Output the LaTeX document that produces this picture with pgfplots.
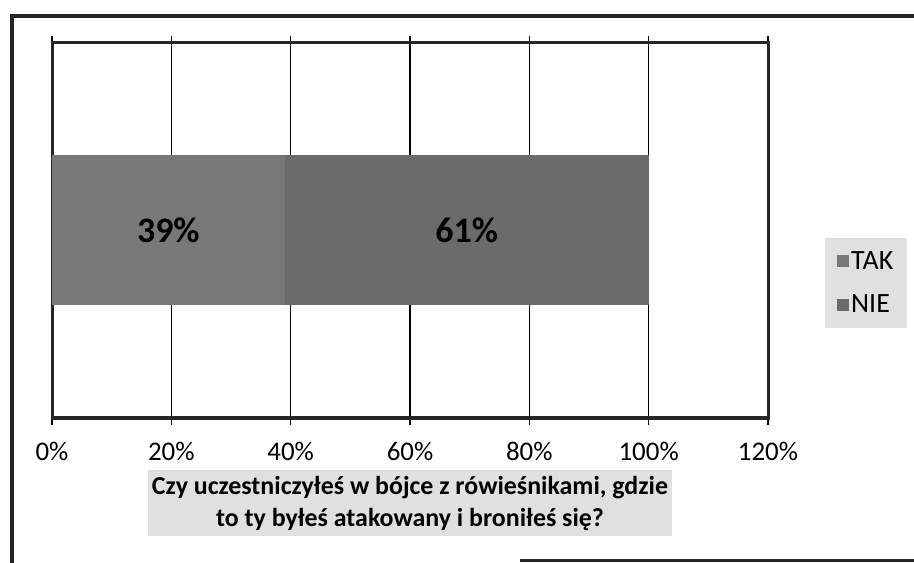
\documentclass[border=0pt]{standalone}
\usepackage{fontspec}
\setmainfont{Carlito}
\usepackage{pgfplots}
\pgfplotsset{compat=1.18}
\definecolor{takc}{gray}{0.47}
\definecolor{niec}{gray}{0.42}
\definecolor{scan}{gray}{0.88}
\begin{document}
\begin{tikzpicture}
\useasboundingbox (0,0) rectangle (914bp,563bp);
\begin{axis}[
  at={(52bp,145bp)}, anchor=south west,
  width=716bp, height=375bp, scale only axis,
  xbar stacked,
  bar width=0.4,
  xmin=0, xmax=120, ymin=-0.5, ymax=0.5,
  xtick={0,20,...,120},
  xticklabel={\pgfmathprintnumber{\tick}\%},
  ytick=\empty,
  /pgf/number format/assume math mode=true,
  tick align=outside,
  major tick length=7bp,
  xtick style={black, line width=1.5bp},
  xticklabel style={font=\fontsize{27}{30}\selectfont, yshift=-14bp},
  axis line style={black!85, line width=3bp},
  xmajorgrids,
  grid style={black, line width=1.6bp},
  xlabel={Czy uczestniczyłeś w bójce z rówieśnikami, gdzie\\to ty byłeś atakowany i broniłeś się?},
  xlabel style={at={(axis description cs:0.5,-0.227)}, anchor=center,
    font=\bfseries\fontsize{26}{32}\selectfont, align=center,
    fill=scan, inner xsep=4bp, inner ysep=6bp},
  legend style={at={(1,0.36)}, xshift=57bp, anchor=west,
    fill=scan, draw=none, font=\fontsize{28}{30}\selectfont,
    row sep=20bp, inner xsep=12bp, inner ysep=12bp,
    /tikz/every odd column/.style={xshift=4bp}},
  legend cell align=left,
  legend image code/.code={\fill[#1] (0bp,-6bp) rectangle (12bp,6bp);},
  nodes near coords={\pgfmathprintnumber{\pgfplotspointmeta}\%},
  every node near coord/.append style={font=\bfseries\fontsize{36}{40}\selectfont, anchor=center, black},
]
\addplot[fill=takc, draw=none] coordinates {(39,0)};
\addplot[fill=niec, draw=none] coordinates {(61,0)};
\legend{TAK,NIE}
\end{axis}
\draw[black!85, line width=3.5bp] (12bp,0) -- (12bp,547bp) -- (914bp,547bp);
\draw[black!85, line width=3bp] (520bp,2bp) -- (914bp,2bp);
\end{tikzpicture}
\end{document}
